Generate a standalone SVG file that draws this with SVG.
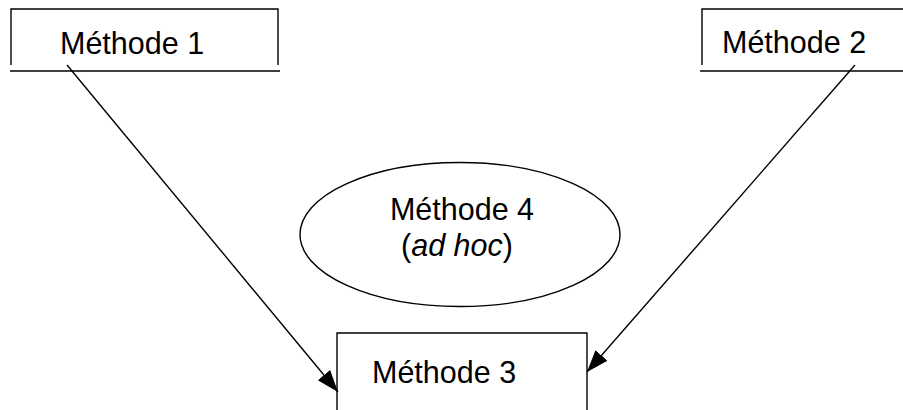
<svg xmlns="http://www.w3.org/2000/svg" width="903" height="410" viewBox="0 0 903 410">
<style>
.ln{stroke:#000;stroke-width:1.4;fill:none}
.t{font-family:"Liberation Sans",Arial,sans-serif;font-size:30.5px;fill:#000}
</style>
<defs>
<marker id="ah" markerUnits="userSpaceOnUse" markerWidth="24" markerHeight="18" refX="22" refY="8" orient="auto" viewBox="0 0 24 16">
<path d="M0,0 L22,8 L0,16 Z" fill="#000"/>
</marker>
</defs>
<rect width="903" height="410" fill="#fff"/>
<g id="connectors">
<line class="ln" x1="67" y1="65" x2="338" y2="392" marker-end="url(#ah)"/>
<line class="ln" x1="855" y1="65" x2="587" y2="372" marker-end="url(#ah)"/>
</g>
<g id="m1">
<path class="ln" d="M11,65 V9 H278 V65 M10,71 H280"/>
<text class="t" x="60" y="54">Méthode 1</text>
</g>
<g id="m2">
<path class="ln" d="M702,65 V9 H904 M700,71 H904"/>
<text class="t" x="722" y="53">Méthode 2</text>
</g>
<g id="m3">
<path class="ln" d="M337,411 V333 H587 V411"/>
<text class="t" x="372" y="383">Méthode 3</text>
</g>
<g id="m4">
<ellipse class="ln" cx="460" cy="234.5" rx="160" ry="72"/>
<text class="t" x="462" y="220" text-anchor="middle">Méthode 4</text>
<text class="t" x="457" y="256" text-anchor="middle">(<tspan font-style="italic">ad hoc</tspan>)</text>
</g>
</svg>
